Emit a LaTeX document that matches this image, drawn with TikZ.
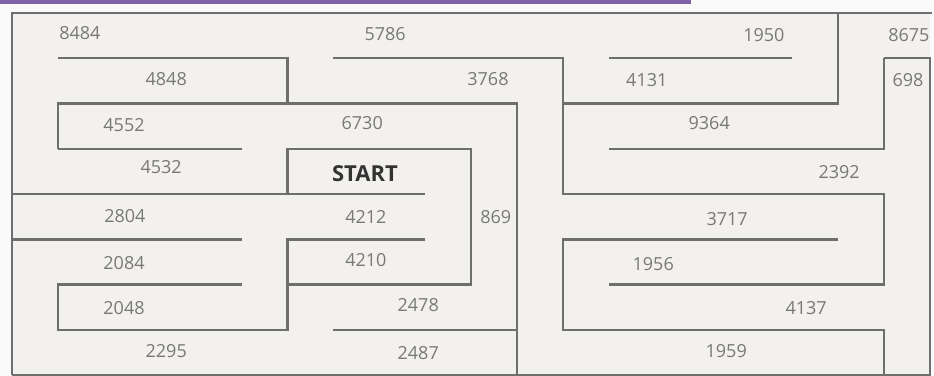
\documentclass[tikz,border=0pt]{standalone}
\usepackage{fontspec}
\setmainfont{Open Sans}
\usepackage{tikz}

\definecolor{mazebg}{RGB}{243,241,237}
\definecolor{wallgray}{RGB}{110,110,110}
\definecolor{labelgray}{RGB}{120,120,120}
\definecolor{barpurple}{RGB}{128,98,168}

\begin{document}
\begin{tikzpicture}[x=45.9pt, y=-45.25pt,
	every node/.style={font=\fontsize{18}{18}\selectfont, text=labelgray, inner sep=1pt},
	wall/.style={wallgray, line width=2.5pt}]
	\useasboundingbox[fill=white!98!black] (-0.2614,-0.2873) rectangle (20.087,8.022);
	\fill[barpurple] (-0.2614,-0.2873) rectangle (14.79,-0.2);
	\fill[mazebg] (0,0) rectangle (20,8);
	% outer border
	\draw[wall] (0,8) -- (0,0) -- (20.04,0);
	\draw[wall] (19,1) -- (20,1) -- (20,8) -- (0,8);
	% left half
	\draw[wall] (1,1) -- (6,1) -- (6,2);
	\draw[wall] (1,3) -- (1,2) -- (11,2) -- (11,8);
	\draw[wall] (1,3) -- (5,3);
	\draw[wall] (0,4) -- (9,4);
	\draw[wall] (0,5) -- (5,5);
	\draw[wall] (6,4) -- (6,3) -- (10,3) -- (10,6) -- (6,6);
	\draw[wall] (9,5) -- (6,5) -- (6,7) -- (1,7) -- (1,6) -- (5,6);
	\draw[wall] (7,7) -- (11,7);
	% right half
	\draw[wall] (7,1) -- (12,1) -- (12,4) -- (19,4) -- (19,6) -- (13,6);
	\draw[wall] (12,2) -- (18,2) -- (18,0);
	\draw[wall] (13,1) -- (17,1);
	\draw[wall] (13,3) -- (19,3) -- (19,1);
	\draw[wall] (18,5) -- (12,5) -- (12,7) -- (19,7) -- (19,8);
	% cell numbers
	\foreach \t/\x/\y in {8484/1.48/0.44, 4848/3.36/1.46, 4552/2.44/2.48, 4532/3.25/3.40,
		5786/8.13/0.46, 3768/10.37/1.46, 6730/7.63/2.43,
		1950/16.38/0.49, 8675/19.54/0.49, 4131/13.83/1.48, 698/19.52/1.48,
		9364/15.19/2.43, 2392/18.02/3.51,
		2804/2.46/4.49, 2084/2.44/5.52, 2048/2.44/6.52, 2295/3.36/7.47,
		4212/7.71/4.51, 869/10.54/4.51, 4210/7.71/5.46, 2478/8.85/6.45, 2487/8.85/7.51,
		3717/15.58/4.55, 1956/13.97/5.55, 4137/17.30/6.52, 1959/15.56/7.47}
		\node (n\t) at (\x,\y) {\t};
	\node[font=\fontsize{22}{22}\selectfont\bfseries, text=black!80] (start) at (7.69,3.54) {START};
\end{tikzpicture}
\end{document}
